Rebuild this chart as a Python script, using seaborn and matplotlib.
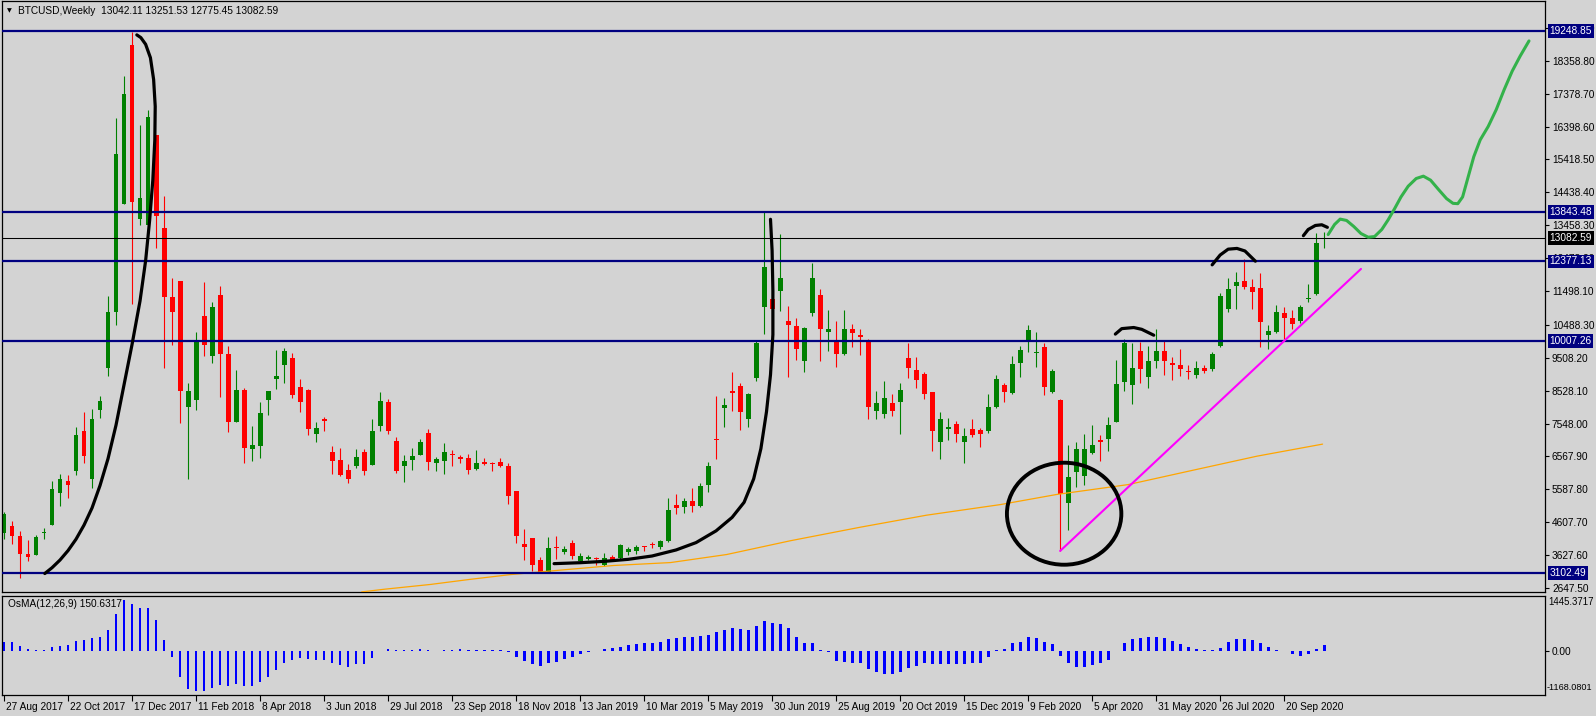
import numpy as np
import matplotlib
matplotlib.use("Agg")
import matplotlib.pyplot as plt
from matplotlib.patches import Ellipse
from matplotlib.transforms import blended_transform_factory, ScaledTranslation
import seaborn as sns

# ---------------- data (weekly BTCUSD, one bar per week from 27 Aug 2017) ----------------
opens = [4295, 4490, 4207, 3664, 3642, 4290, 4534, 5467, 5837, 6140,
         7314, 5902, 7965, 9203, 10865, 14090, 18825, 13656, 13471, 16132,
         13362, 11332, 11788, 8041, 8258, 10756, 9561, 11386, 9616, 7607,
         8552, 6792, 6879, 8258, 8878, 9290, 9507, 8638, 8552, 7249,
         7683, 6705, 6466, 6162, 6271, 6705, 6314, 7487, 8183, 7031,
         6293, 6466, 6618, 7270, 6358, 6445, 6640, 6553, 6510, 6184,
         6401, 6380, 6401, 6271, 5533, 3968, 4131, 3490, 3122, 3881,
         3730, 3990, 3447, 3512, 3555, 3339, 3577, 3534, 3708, 3751,
         3881, 3968, 3881, 4055, 5109, 5055, 5228, 5076, 5728, 7096,
         8009, 8530, 8660, 7683, 8910, 11028, 11267, 11506, 10615, 10463,
         9399, 10832, 11386, 10279, 9963, 9616, 10355, 10181, 9963, 7911,
         7824, 8172, 8183, 9507, 9138, 9019, 8476, 7009, 7379, 7520,
         7009, 7390, 7357, 7336, 8041, 8692, 8443, 9344, 10050, 9660,
         9833, 8476, 8258, 5185, 6108, 5989, 6683, 7053, 7096, 7596,
         8780, 8692, 9703, 8942, 9420, 9703, 9355, 9290, 9105, 8986,
         9203, 9160, 9855, 10963, 11658, 11810, 11625, 11592, 10180, 10289,
         10832, 10680, 10615, 11266, 11397, 13042.11]
highs = [4925, 4642, 4349, 4077, 4240, 4425, 5837, 6032, 6011, 7444,
         7879, 7987, 8367, 11353, 16653, 17902, 19227, 16458, 16892, 16132,
         14340, 11875, 11788, 8747, 10268, 11766, 11158, 11658, 9865, 9149,
         8617, 7466, 8183, 8530, 9746, 9811, 9637, 8878, 8580, 7607,
         7748, 6879, 6814, 6336, 6792, 6792, 7683, 8476, 8270, 7140,
         6597, 6814, 7085, 7390, 6553, 6955, 6749, 6600, 6640, 6760,
         6510, 6400, 6510, 6358, 5550, 4403, 4150, 3566, 4164, 4208,
         3900, 4077, 3680, 3640, 3580, 3686, 3620, 3950, 3860, 3925,
         3900, 4020, 4077, 5326, 5435, 5326, 5620, 5761, 6401, 8367,
         8313, 9073, 8747, 8450, 9996, 13851, 12000, 13200, 11050, 10680,
         10420, 12331, 11571, 10941, 10615, 10941, 10528, 10376, 10072, 8530,
         8801, 8421, 8769, 9942, 9529, 9095, 8500, 7879, 7716, 7629,
         7422, 7683, 7420, 8421, 8986, 8769, 9562, 9855, 10485, 10289,
         9942, 9181, 8280, 6922, 7009, 7249, 7498, 7205, 7748, 9453,
         10072, 9942, 9963, 9855, 10355, 9996, 9520, 9779, 9290, 9420,
         9290, 9670, 11440, 11875, 12059, 12461, 11842, 12027, 10485, 11082,
         11006, 10919, 11070, 11701, 13221, 13251.53]
lows = [4099, 3968, 2938, 3447, 3620, 4099, 4512, 5077, 5326, 6011,
        6380, 5619, 7716, 8964, 10485, 14090, 11115, 13471, 13471, 12787,
        9203, 9887, 7574, 5902, 7965, 9561, 9344, 8334, 7281, 7607,
        6358, 6445, 6521, 7792, 8584, 8769, 8313, 7879, 7205, 7009,
        7314, 6054, 5978, 5761, 6227, 6011, 6300, 7314, 7249, 6086,
        5815, 6162, 6600, 6162, 6119, 6054, 6293, 6358, 6032, 6150,
        6300, 6140, 6250, 5163, 3990, 3490, 3154, 3100, 3110, 3512,
        3660, 3520, 3400, 3470, 3344, 3300, 3450, 3510, 3640, 3660,
        3740, 3840, 3820, 4010, 4859, 4880, 4900, 5050, 5511, 6488,
        7444, 7932, 7357, 7444, 8801, 10213, 9616, 10898, 8932, 9453,
        9073, 10756, 9420, 9724, 9236, 9600, 9833, 9594, 7683, 7683,
        7720, 7770, 7227, 8910, 8617, 8291, 6727, 6488, 7053, 7009,
        6380, 7150, 6846, 7270, 8009, 8183, 8420, 8932, 9670, 9236,
        8400, 8450, 3751, 4381, 5652, 5707, 6650, 6445, 6727, 7580,
        8530, 8117, 8747, 8617, 9203, 8986, 8856, 8964, 8878, 8900,
        9050, 9100, 9830, 10865, 10974, 11549, 10974, 9833, 9779, 10250,
        10072, 10376, 10540, 11158, 11380, 12775.45]
closes = [4838, 4186, 3664, 3577, 4164, 4310, 5598, 5902, 5707, 7205,
          6575, 7683, 8226, 10886, 15567, 17359, 14155, 14264, 16675, 13743,
          11321, 10865, 8508, 8508, 10050, 9887, 11006, 9616, 7607, 8552,
          6825, 6901, 7857, 8508, 8964, 9703, 8400, 8204, 7390, 7422,
          7618, 6445, 6011, 5880, 6553, 6140, 7314, 8226, 7336, 6140,
          6445, 6575, 7009, 6412, 6488, 6705, 6597, 6499, 6162, 6358,
          6336, 6336, 6293, 5402, 4208, 3860, 3317, 3131, 3838, 3838,
          3816, 3599, 3599, 3577, 3512, 3534, 3490, 3925, 3806, 3881,
          3860, 3925, 4055, 4968, 5033, 5228, 5076, 5685, 6271, 7053,
          8096, 8465, 7879, 8421, 9942, 12222, 10974, 11875, 10485, 9779,
          10398, 11875, 10355, 10355, 9616, 10355, 10246, 10115, 8041, 8150,
          8313, 7911, 8552, 9203, 8834, 8421, 7314, 7683, 7444, 7227,
          7172, 7205, 7227, 8041, 8878, 8476, 9323, 9746, 10344, 9670,
          8638, 9127, 5435, 5945, 6792, 6792, 6901, 7009, 7498, 8725,
          9942, 9203, 9160, 9420, 9703, 9420, 9290, 9160, 9095, 9203,
          9127, 9616, 11353, 11549, 11766, 11614, 11462, 10571, 10311, 10876,
          10680, 10507, 11028, 11288, 12928, 13082.59]
osma = [240, 222, 134, 45, 27, 27, 89, 134, 160, 267,
        285, 347, 374, 561, 979, 1335, 1246, 1121, 1121, 801,
        285, -160, -694, -997, -1050, -1068, -979, -908, -935, -890,
        -935, -935, -819, -685, -507, -312, -240, -196, -205, -240,
        -240, -312, -383, -418, -356, -338, -196, -18, 45, 18,
        18, 18, 45, 18, -18, 18, 18, 45, 18, 18,
        18, 18, 18, -27, -178, -267, -356, -401, -329, -294,
        -223, -160, -89, -27, -18, 45, 62, 107, 151, 178,
        196, 196, 240, 312, 338, 356, 374, 383, 427, 490,
        561, 605, 579, 561, 650, 783, 730, 712, 605, 356,
        196, 196, 27, -45, -267, -294, -312, -329, -490, -561,
        -605, -623, -561, -463, -401, -329, -338, -338, -338, -338,
        -338, -312, -312, -160, 9, 45, 196, 240, 356, 338,
        240, 178, -142, -329, -418, -427, -374, -312, -231, -18,
        205, 312, 338, 356, 374, 329, 267, 178, 107, 45,
        18, 18, 71, 240, 312, 312, 285, 196, 89, 27,
        -18, -89, -134, -89, 45, 150.63]

date_labels = ["27 Aug 2017", "22 Oct 2017", "17 Dec 2017", "11 Feb 2018", "8 Apr 2018",
               "3 Jun 2018", "29 Jul 2018", "23 Sep 2018", "18 Nov 2018", "13 Jan 2019",
               "10 Mar 2019", "5 May 2019", "30 Jun 2019", "25 Aug 2019", "20 Oct 2019",
               "15 Dec 2019", "9 Feb 2020", "5 Apr 2020", "31 May 2020", "26 Jul 2020",
               "20 Sep 2020"]
price_ticks = [19338.90, 18358.80, 17378.70, 16398.60, 15418.50, 14438.40, 13458.30,
               12478.20, 11498.10, 10488.30, 9508.20, 8528.10, 7548.00, 6567.90,
               5587.80, 4607.70, 3627.60, 2647.50]
level_lines = [19248.85, 13843.48, 12377.13, 10007.26, 3102.49]
last_price = 13082.59
osma_max, osma_min = 1445.3717, -1168.0801
header = "BTCUSD,Weekly  13042.11 13251.53 12775.45 13082.59"
osma_title = "OsMA(12,26,9) 150.6317"

# moving average (orange)
ma_x = [44.7, 47.6, 53.3, 58.3, 63.3, 69.9, 76.2, 83.3, 90.3, 98.3, 107.0,
        115.3, 124.5, 131.6, 140.5, 148.3, 156.6, 164.8]
ma_y = [2530, 2611, 2752, 2905, 3046, 3187, 3317, 3404, 3643, 4055, 4457,
        4816, 5131, 5435, 5728, 6140, 6575, 6934]
# magenta trend line
trend_x = [132.0, 169.6]
trend_y = [3751, 12155]
# green projection
green_x = [165.5, 166.3, 167.0, 167.8, 168.7, 169.6, 170.5, 171.3, 172.2, 173.0,
           173.8, 174.6, 175.5, 176.5, 177.4, 178.3, 179.3, 180.3, 181.1, 181.7,
           182.3, 183.0, 183.7, 184.5, 185.5, 186.5, 187.5, 188.5, 189.5, 190.6]
green_y = [13180, 13480, 13640, 13600, 13420, 13210, 13100, 13120, 13330, 13620,
           13950, 14300, 14620, 14850, 14920, 14800, 14520, 14250, 14110, 14100,
           14300, 14900, 15500, 16000, 16400, 16900, 17500, 18050, 18500, 18950]
# hand-drawn black curves
curve_a_x = [5.1, 6.0, 7.0, 8.0, 9.0, 10.0, 11.0, 12.0, 13.0, 14.0, 15.0, 16.0, 17.0,
             17.7, 18.2, 18.6, 18.85, 18.9, 18.7, 18.3, 17.7, 17.1, 16.6]
curve_a_y = [3078, 3250, 3480, 3760, 4100, 4520, 5030, 5700, 6500, 7500, 8700, 9900,
             11200, 12400, 13600, 14800, 16000, 17000, 17800, 18450, 18850, 19050, 19130]
curve_b_x = [68.75, 72.0, 75.0, 78.0, 81.0, 84.0, 86.5, 89.0, 91.0, 92.5, 93.7, 94.6,
             95.3, 95.8, 96.1, 96.1, 96.0, 95.8]
curve_b_y = [3372, 3400, 3440, 3500, 3600, 3780, 4000, 4350, 4750, 5200, 5900, 6800,
             7900, 9000, 10200, 11500, 12700, 13634]
arc1_x = [138.9, 139.7, 141.2, 142.2, 143.7]
arc1_y = [10213, 10376, 10409, 10355, 10180]
arc2_x = [151.0, 152.0, 153.0, 154.1, 155.1, 156.4]
arc2_y = [12277, 12570, 12744, 12766, 12690, 12386]
arc3_x = [162.4, 163.0, 163.9, 164.7, 165.4]
arc3_y = [13146, 13330, 13450, 13471, 13395]
circle_center = (132.5, 4860)
circle_size = (14.3, 3040)

# ---------------- styling ----------------
W, H = 1596, 716
BG = "#d3d3d3"
sns.set_theme(style="white")
plt.rcParams["font.family"] = ["Liberation Sans", "DejaVu Sans"]
plt.rcParams["axes.linewidth"] = 0.8
FS = 7.3

fig = plt.figure(figsize=(W / 100, H / 100), dpi=100, facecolor=BG)

def px_axes(left, top, right, bottom):
    return fig.add_axes([left / W, 1 - bottom / H, (right - left) / W, (bottom - top) / H])

ax = px_axes(2, 1, 1545, 592)
ax2 = px_axes(2, 596, 1545, 695)
for a in (ax, ax2):
    a.set_facecolor(BG)
    for s in a.spines.values():
        s.set_color("black")
        s.set_linewidth(0.9)

n = len(opens)
idx = np.arange(n)
o = np.array(opens, float); c = np.array(closes, float)
hi = np.array(highs, float); lo = np.array(lows, float)
up = c >= o
cols = np.where(up, "#008000", "#ff0000")

# candles
ax.vlines(idx, lo, hi, colors=cols, linewidth=0.8, zorder=2)
body_bottom = np.minimum(o, c)
body_h = np.maximum(np.abs(c - o), 30)
ax.bar(idx, body_h, bottom=body_bottom, width=0.62, color=cols, linewidth=0, zorder=2)

# orange MA
sns.lineplot(x=ma_x, y=ma_y, sort=False, estimator=None, color="#ffa500", linewidth=0.9, ax=ax, zorder=3)

# level lines
for v in level_lines:
    ax.axhline(v, color="#000080", linewidth=1.6, zorder=4)
ax.axhline(last_price, color="black", linewidth=0.75, zorder=4)

# magenta trend
sns.lineplot(x=trend_x, y=trend_y, sort=False, estimator=None, color="#ff00ff", linewidth=1.5, ax=ax, zorder=5)
# green projection
sns.lineplot(x=green_x, y=green_y, sort=False, estimator=None, color="#33b24a", linewidth=2.2, ax=ax, zorder=5)
# black hand drawn
for xs, ys in [(curve_a_x, curve_a_y), (curve_b_x, curve_b_y), (arc1_x, arc1_y),
               (arc2_x, arc2_y), (arc3_x, arc3_y)]:
    sns.lineplot(x=xs, y=ys, sort=False, estimator=None, color="black", linewidth=2.3, ax=ax, zorder=6)
ax.add_patch(Ellipse(circle_center, circle_size[0], circle_size[1], fill=False,
                     edgecolor="black", linewidth=2.8, zorder=6))

ax.set_xlim(-0.25, 192.6)
ax.set_ylim(2527, 20140)
ax.set_xlabel(""); ax.set_ylabel("")
ax.set_xticks([])
ax.yaxis.tick_right()
ax.set_yticks(price_ticks)
ax.set_yticklabels([f"{v:.2f}" for v in price_ticks])
ax.tick_params(axis="y", which="both", direction="out", length=3, width=0.8, pad=2,
               labelsize=FS, colors="black", right=True, left=False)

tr = blended_transform_factory(ax.transAxes, ax.transData)
for v in level_lines:
    ax.text(1 + 4.5 / 1543, v, f"{v:.2f}", transform=tr, ha="left", va="center", color="white",
            fontsize=FS, zorder=30, clip_on=False,
            bbox=dict(boxstyle="square,pad=0.18", fc="#000080", ec="none"))
ax.text(1 + 4.5 / 1543, last_price, f"{last_price:.2f}", transform=tr, ha="left", va="center",
        color="white", fontsize=FS, zorder=30, clip_on=False,
        bbox=dict(boxstyle="square,pad=0.18", fc="black", ec="none"))

# header
fig.text(7 / W, 1 - 11 / H, "▼", fontsize=4.5, family="DejaVu Sans", va="center", ha="left", color="black")
fig.text(18 / W, 1 - 11 / H, header, fontsize=FS, va="center", ha="left", color="black")

# ---------------- OsMA ----------------
sns.barplot(x=idx, y=osma, native_scale=True, color="#0000ff", saturation=1,
            width=0.36, linewidth=0, errorbar=None, ax=ax2)
ax2.set_xlim(-0.25, 192.6)
ax2.set_ylim(osma_min, osma_max)
ax2.set_xlabel(""); ax2.set_ylabel("")
ax2.yaxis.tick_right()
ax2.set_yticks([0])
ax2.set_yticklabels(["0.00"])
ax2.tick_params(axis="y", direction="out", length=3, width=0.8, pad=2, labelsize=FS,
                colors="black", right=True, left=False)
tick_pos = idx[::8][:len(date_labels)]
ax2.set_xticks(tick_pos)
ax2.set_xticklabels(date_labels)
ax2.tick_params(axis="x", direction="out", length=4, width=0.8, pad=1, labelsize=FS,
                colors="black", bottom=True)
for lab in ax2.get_xticklabels():
    lab.set_ha("left")
    lab.set_transform(lab.get_transform() + ScaledTranslation(2 / 100, 0, fig.dpi_scale_trans))
ax2.text(1 + 3 / 1543, 0.942, f"{osma_max:.4f}", transform=ax2.transAxes, ha="left", va="center",
         fontsize=6.9, color="black", clip_on=False)
ax2.text(1 + 2 / 1543, 0.071, f"{osma_min:.4f}", transform=ax2.transAxes, ha="left", va="center",
         fontsize=6.6, color="black", clip_on=False)
ax2.text(0.0036, 0.92, osma_title, transform=ax2.transAxes, ha="left", va="center",
         fontsize=FS, color="black")

fig.savefig("out.png", dpi=100, facecolor=BG)
